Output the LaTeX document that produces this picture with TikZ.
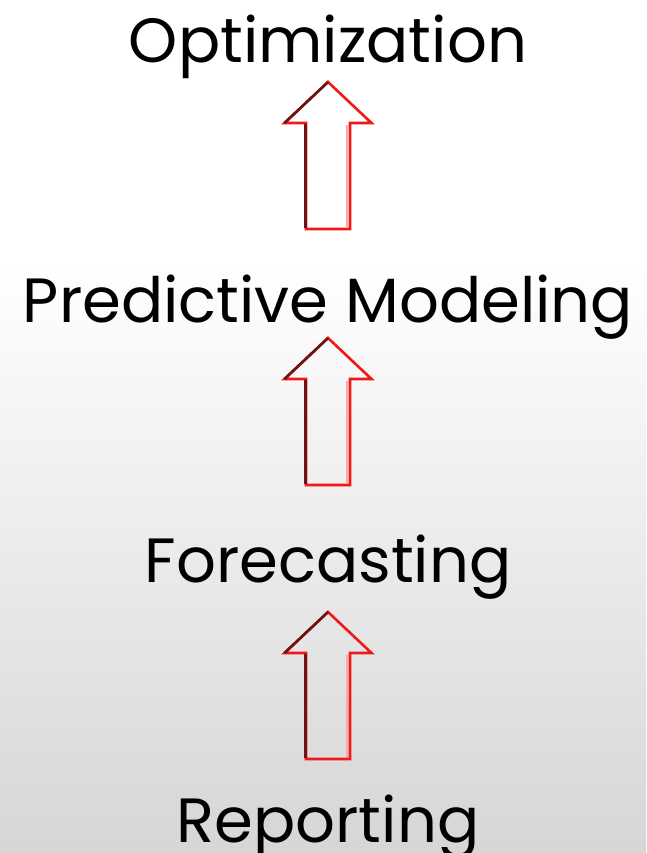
\documentclass[tikz,border=0pt]{standalone}
\usepackage{fontspec}
\setmainfont{Poppins}
\usetikzlibrary{calc}

\definecolor{bgbottom}{HTML}{D6D6D6}
\definecolor{arrowred}{HTML}{F01818}
\definecolor{arrowdark}{HTML}{6A1414}

\tikzset{
	stage/.style={anchor=base, inner sep=0pt, font=\fontsize{62.5}{74}\selectfont},
	uparrow/.pic={
		% outline, tip at the origin
		\draw[arrowred, line width=2.6pt, line join=miter]
			(0,0) -- (43.5,41) -- (22,41) -- (22,147) -- (-22,147) -- (-22,41) -- (-43.5,41) -- cycle;
		\draw[red!35, line width=2pt] (18.5,43) -- (18.5,145);
		\draw[arrowdark, line width=2.6pt] (-43.5,41) -- (0,0);
		\draw[arrowdark, line width=3.2pt] (-22.3,42) -- (-22.3,146);
	}
}

\begin{document}
\begin{tikzpicture}[x=1pt, y=-1pt]
	\useasboundingbox (0,0) rectangle (646,853);
	\fill[white] (0,0) rectangle (646,260);
	\shade[top color=white, bottom color=bgbottom] (0,260) rectangle (646,853);

	\node[stage] (opt) at (328,63) {Optimization};
	\node[stage] (pred) at (328,322) {Predictive Modeling};
	\node[stage] (fore) at (328,582) {Forecasting};
	\node[stage] (rep) at (328,842) {Reporting};

	% arrows, tip just under the stage above
	\pic at ($(opt.base)+(0,19)$) {uparrow};
	\pic at ($(pred.base)+(0,16)$) {uparrow};
	\pic at ($(fore.base)+(0,30)$) {uparrow};
\end{tikzpicture}
\end{document}
